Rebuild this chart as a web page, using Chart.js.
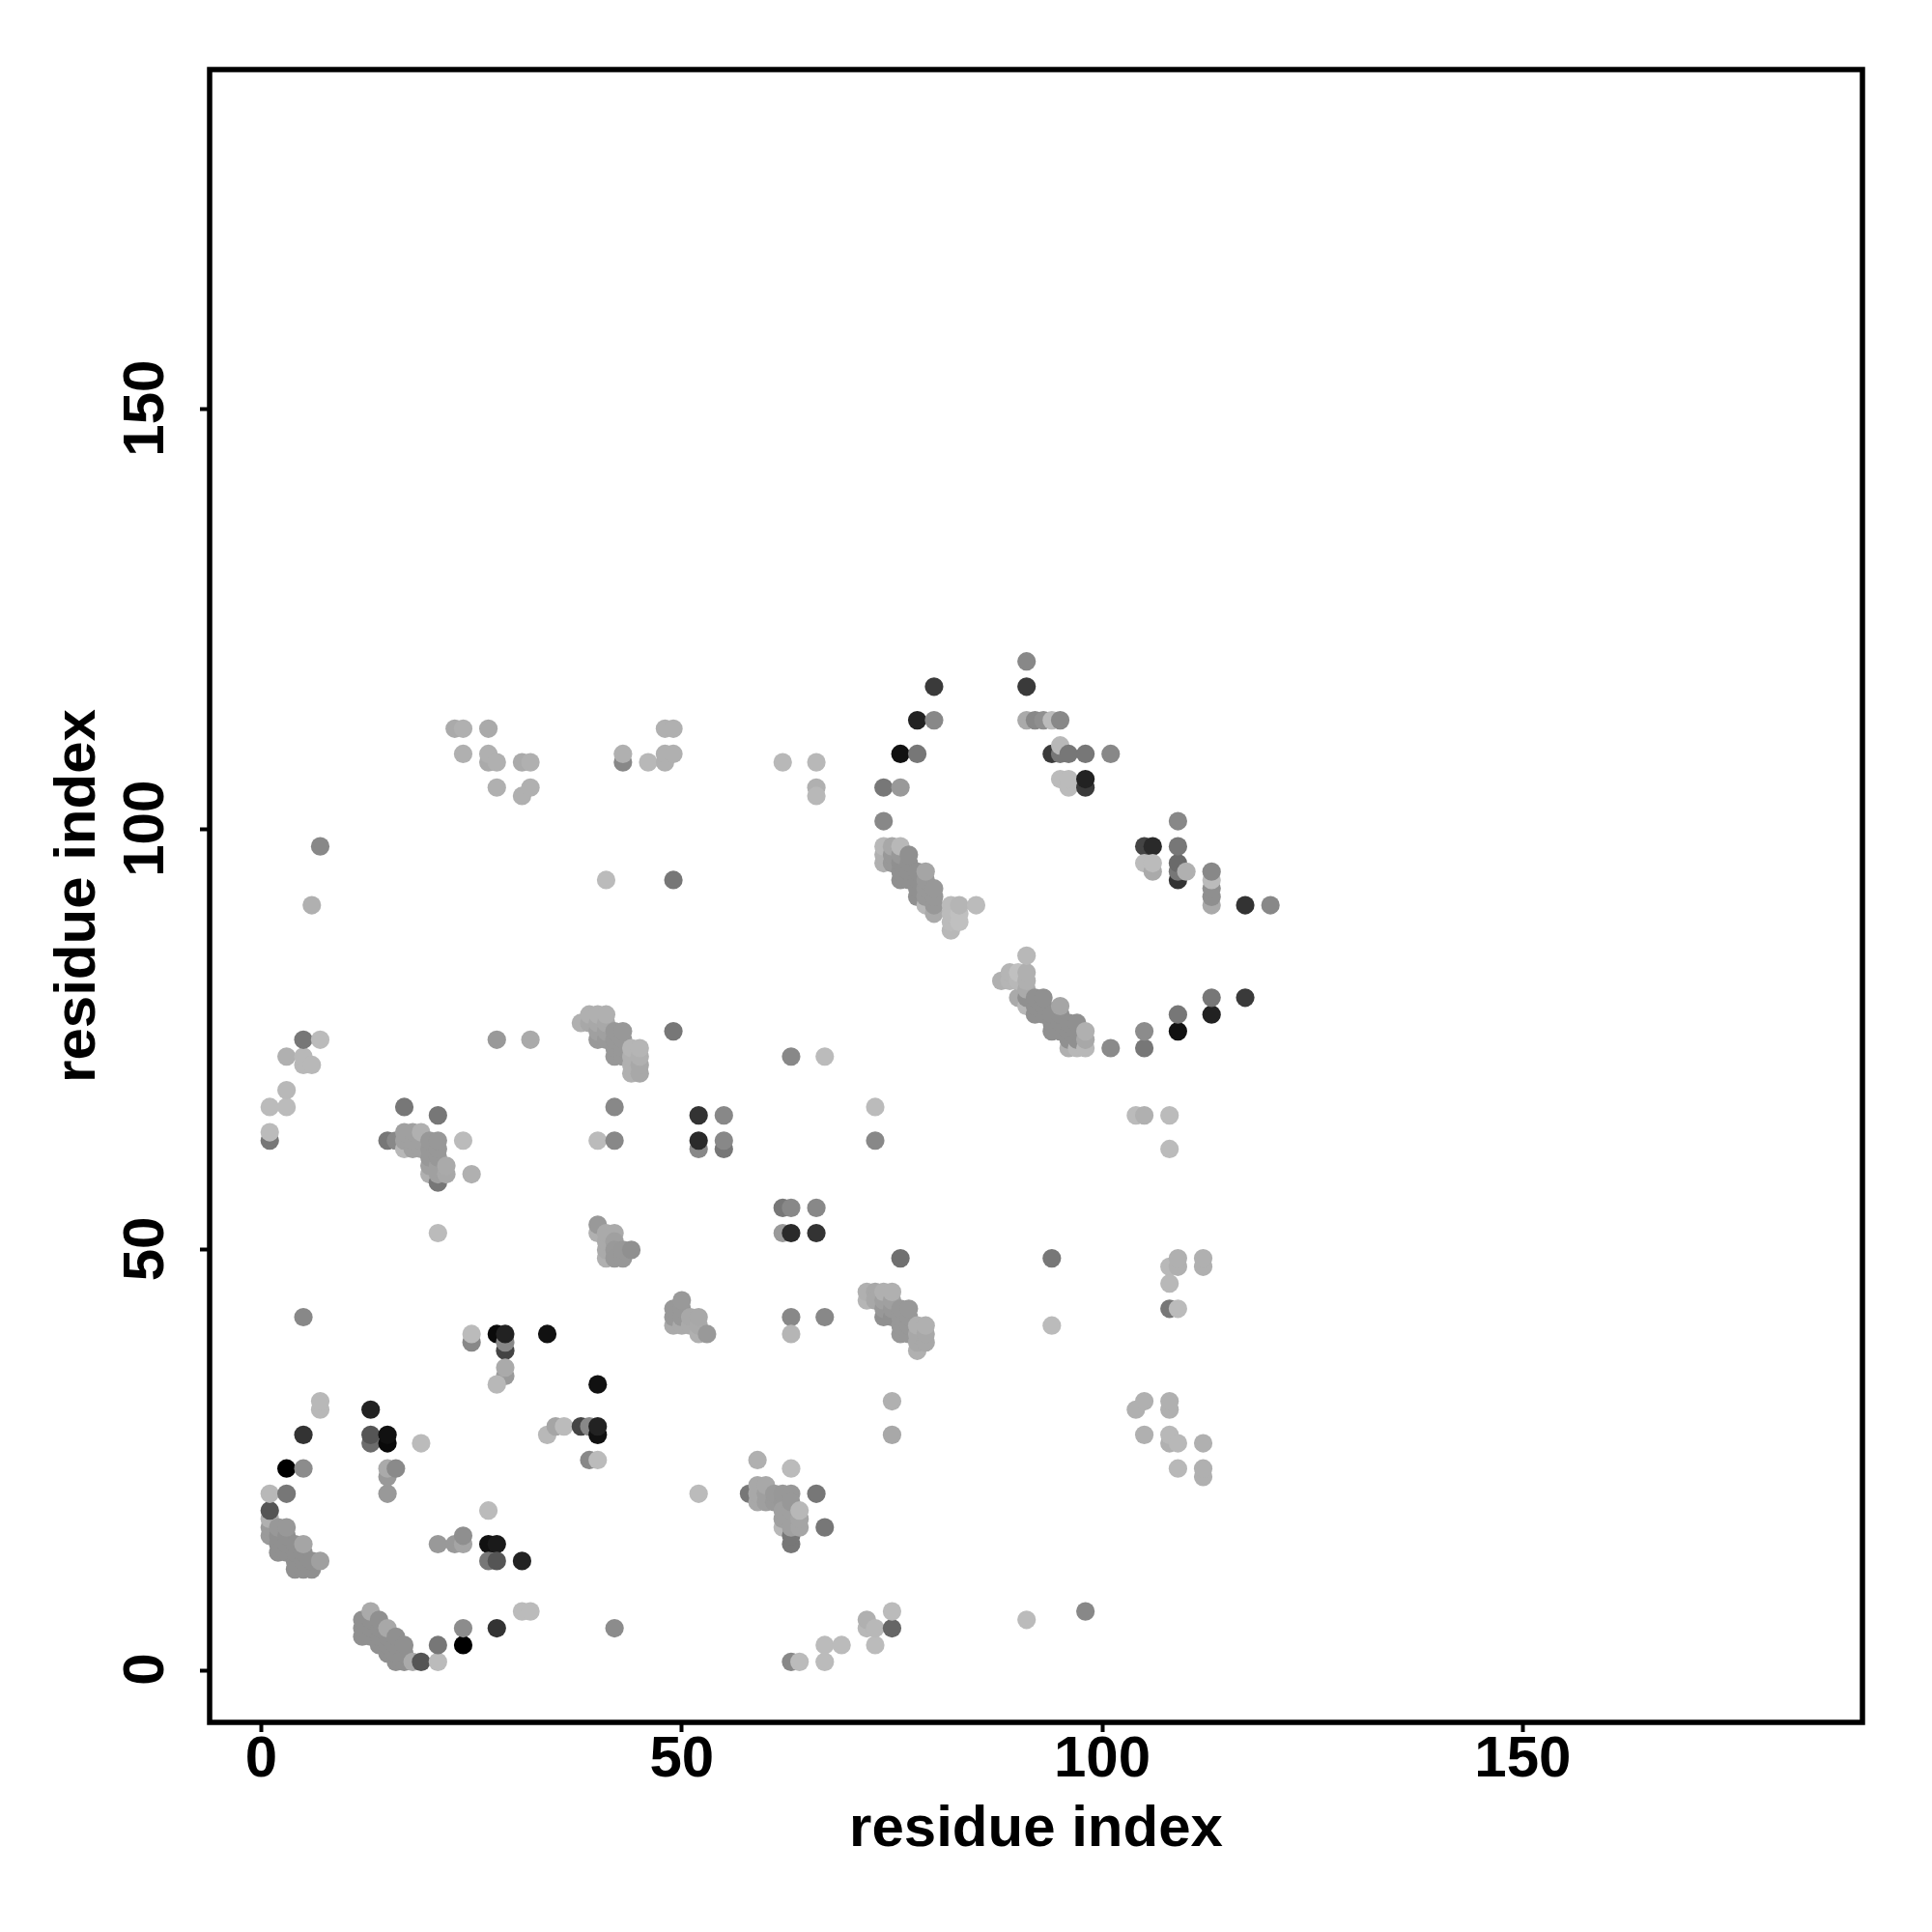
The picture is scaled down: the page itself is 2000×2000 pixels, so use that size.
<!DOCTYPE html>
<html>
<head>
<meta charset="utf-8">
<style>html,body{margin:0;padding:0;background:#fff}#wrap{width:2000px;height:2000px}</style>
<script src="https://cdn.jsdelivr.net/npm/chart.js@4"></script>
</head>
<body>
<div id="wrap"><canvas id="c" width="2000" height="2000"></canvas></div>
<script>
const tickValues = [0, 50, 100, 150];
const axisTitle = 'residue index';

const residueI = [
1,1,1,1,1,2,2,2,2,3,3,3,3,4,4,4,4,5,5,5,5,6,6,7,
3,3,5,5,7,7,
13,13,13,15,15,19,15,15,15,16,27,
21,23,24,24,27,28,27,28,31,31,32,
12,12,12,13,13,13,13,14,14,14,14,15,15,15,15,16,16,16,16,17,17,17,18,19,21,21,24,24,28,
25,25,28,29,29,29,34,29,29,28,
34,35,36,38,39,40,40,40,39,40,52,
58,59,59,59,60,60,60,61,61,62,62,63,62,62,62,63,63,63,63,63,63,64,64,64,
59,63,66,67,42,63,64,67,67,69,72,72,73,73,75,75,75,75,
62,63,66,62,63,66,76,63,67,63,
72,72,73,73,74,74,74,74,75,75,75,75,76,76,76,76,77,77,77,77,78,78,78,78,79,79,79,
49,49,49,50,50,50,50,51,51,52,52,52,53,
40,40,41,41,41,41,42,42,42,42,43,43,44,
15,16,17,17,17,18,18,18,19,19,19,20,20,20,20,20,21,21,21,21,21,21,22,22,
17,21,24,25,21,5,1,1,1,3,3,3,5,5,6,5,7,28,32,
38,39,39,40,40,40,40,41,41,41,41,42,42,42,42,43,43,43,43,44,44,44,44,45,45,45,45,
49,63,67,42,40,42,52,55,52,52,55,55,73,73,
104,105,108,108,
74,74,74,75,75,75,76,76,76,76,76,77,77,77,77,78,78,78,78,79,79,79,79,79,80,80,80,80,
82,82,82,82,83,83,83,85,
74,74,76,76,78,78,80,80,
91,92,93,94,95,91,91,
94,95,95,96,98,101,95,96,96,98,98,
88,89,89,90,90,90,91,91,91,91,91,91,
92,92,92,93,93,93,94,94,94,95,95,95,95,96,96,96,96,97,97,97,97,98,98,98,
101,105,105,109,109,113,113,117,
105,106,105,106,106,109,109,109,109,109,110,
113,113,113,113,113,117,120,
6,7,23,24,27,24,27,27,28,31,32,28,31,32,
41,49,43,43,46,48,48,49,48,49,62,66,66,66,
94,94,108,109,109,112,112,108,108,109,104,105,108,108,105,108,108,109,112,109,112,112,98,91
];

const residueJ = [
16,17,18,19,21,14,15,16,17,14,15,16,17,12,13,14,15,12,13,14,15,12,13,13,
21,24,24,28,31,32,
31,27,28,27,28,27,21,23,24,24,19,
15,15,15,16,15,15,13,13,13,7,7,
4,5,6,4,5,6,7,3,4,5,6,2,3,4,5,1,2,3,4,1,2,3,1,1,1,3,3,5,5,
39,40,40,38,39,40,40,35,36,34,
28,29,29,29,29,28,29,34,25,25,21,
21,20,21,22,20,21,22,20,21,20,21,21,17,18,19,15,16,17,18,19,20,17,18,19,
25,24,21,17,5,1,1,1,3,3,5,6,3,5,5,7,28,32,
55,55,55,52,52,52,49,42,42,40,
44,45,45,44,42,43,44,45,42,43,44,45,40,41,42,43,40,41,42,43,38,39,40,41,39,40,41,
41,42,43,41,42,43,44,41,42,40,41,42,40,
52,53,49,50,51,52,52,51,50,49,49,50,50,
63,63,62,63,64,62,63,64,62,63,64,59,60,61,62,63,58,59,60,61,62,63,59,60,
67,66,63,59,52,42,63,64,67,67,69,73,72,73,72,75,75,75,75,
77,77,78,75,76,77,78,75,76,77,78,73,74,75,76,73,74,75,76,71,72,73,74,71,72,73,74,
76,73,73,67,63,63,66,66,62,63,62,63,67,63,
66,66,66,62,
96,97,98,96,97,98,94,95,96,97,98,94,95,96,97,92,93,94,95,91,92,93,94,95,90,91,92,93,
88,89,90,91,89,90,91,91,
101,105,105,109,109,113,113,117,
113,113,113,113,113,117,120,
109,109,110,109,109,109,106,105,106,105,106,
82,82,83,80,82,83,79,80,81,82,83,85,
78,79,80,78,79,80,76,77,78,76,77,78,79,74,75,76,77,74,75,76,77,74,75,76,
74,74,76,76,78,78,80,80,
98,98,96,95,96,94,95,96,98,101,95,
91,92,93,94,95,91,91,
91,98,112,112,112,109,108,109,108,108,108,105,104,105,
94,94,108,109,108,108,109,109,112,112,108,108,105,104,
49,41,48,48,49,48,49,46,43,43,31,32,31,32,28,27,28,27,27,24,23,24,7,6
];

const shade = [
0x9a,0x9a,0xb0,0x55,0xb8,0x90,0x90,0x90,0x98,0x90,0x90,0x90,0x98,0x90,0x90,0x90,0x90,0x90,0x90,0x90,0xa5,0x90,0x90,0xa0,
0x77,0x00,0x8c,0x33,0xb8,0xb8,
0x22,0x6c,0x55,0x0a,0x11,0xbb,0x99,0x99,0xaa,0x8a,0xbb,
0x99,0x99,0xa5,0x8f,0x11,0x1a,0x77,0x55,0x22,0xbb,0xbb,
0x90,0x90,0x90,0x90,0x90,0x90,0xaa,0x90,0x90,0x90,0x90,0x90,0x90,0x90,0xa8,0x90,0x90,0x90,0x90,0x90,0x90,0x90,0xaa,0x55,0xbb,0x77,0x00,0x8c,0x33,
0x88,0xbb,0x0a,0x44,0x88,0x22,0x11,0x9a,0xaa,0xb8,
0xb8,0xa5,0xbb,0x44,0x88,0x11,0x22,0x11,0x88,0xbb,0xbb,
0x77,0xa8,0xa8,0xa8,0x9f,0x9f,0xa8,0x9a,0x9a,0x98,0x98,0x98,0xb8,0xa0,0xa0,0x77,0x77,0xa0,0xa0,0xa0,0x98,0xa5,0xa5,0xb8,
0xb0,0xbb,0x77,0x77,0x8c,0x88,0xbb,0xbb,0xbb,0xbb,0xb8,0xb0,0xbb,0xb8,0x66,0xbb,0xa8,0xb0,
0x77,0x88,0x88,0x99,0x2a,0x33,0x70,0x88,0x88,0xb5,
0xb5,0xb0,0xa8,0xa8,0x90,0x98,0xa0,0xb0,0x90,0x98,0xa0,0xb0,0x98,0x98,0x98,0x98,0x98,0x98,0x98,0x98,0xb0,0xa8,0xa8,0xb0,0xa8,0xa8,0xb0,
0xaa,0x98,0x98,0xaa,0x98,0x98,0x99,0xaa,0xa8,0xb0,0xaa,0xa8,0x99,
0xb0,0x99,0xb0,0xaa,0xaa,0xaa,0xaa,0xa0,0x99,0x98,0x98,0x98,0x90,
0x77,0x88,0xb8,0xa0,0xa0,0xa0,0xa0,0xa0,0xa0,0xa0,0xb0,0xb0,0xa0,0x98,0x98,0x98,0x77,0xa0,0xa0,0x98,0x98,0x98,0xa8,0xaa,
0x77,0x77,0xbb,0xb0,0xbb,0x88,0x77,0xbb,0xbb,0xbb,0xb8,0xb0,0xb8,0xb8,0xb8,0x77,0xbb,0x99,0xaa,
0xb0,0xa8,0xb0,0x99,0xa0,0xa8,0xb0,0x99,0xa0,0xa8,0xb0,0x98,0x98,0x98,0x98,0x98,0x98,0x98,0x98,0xb0,0xb0,0xb0,0xb5,0xa8,0xa8,0xb0,0xb5,
0x77,0x88,0xbb,0x88,0xbb,0x88,0x33,0x88,0x88,0x2a,0x77,0x88,0xbb,0x88,
0xbb,0xb0,0xbb,0xbb,
0xb0,0xb0,0xb8,0x98,0x98,0xa8,0x90,0x90,0x90,0x98,0xb8,0x90,0x90,0x90,0x90,0x90,0x90,0x90,0x90,0xb8,0x98,0x98,0x98,0xa5,0xaa,0x98,0x98,0x98,
0xb8,0xbb,0xbb,0xbb,0xc0,0xc0,0xb5,0xbb,
0x88,0x77,0x99,0x11,0x77,0x22,0x88,0x3a,
0xaa,0x88,0x8f,0xbb,0x88,0x3a,0x88,
0x3a,0x77,0xb8,0x77,0x77,0x88,0xbb,0xbb,0xbb,0x3a,0x22,
0xb0,0xb5,0xb5,0xaa,0xb8,0xc0,0xb8,0x90,0xaa,0xb0,0xb0,0xb8,
0x90,0x90,0x90,0x90,0x90,0x90,0x90,0x90,0x90,0x90,0x90,0x90,0xa5,0xb0,0x90,0x90,0x90,0xb8,0x90,0x90,0x90,0xb8,0xa8,0xb0,
0x8a,0x77,0x8c,0x11,0x77,0x22,0x77,0x3a,
0x44,0x2a,0xbb,0xaa,0xbb,0x33,0x77,0x6a,0x77,0x88,0xb0,
0xaa,0x8f,0x8f,0xbb,0x88,0x33,0x88,
0xb0,0x88,0xaa,0xb0,0xaa,0xb0,0xaa,0xb0,0xb0,0xaa,0xb0,0xb0,0xb0,0xb0,
0xbb,0x77,0x88,0xb0,0xb8,0xb0,0xb0,0xb0,0xb0,0xb0,0xb8,0xb8,0xb0,0xb8,
0x77,0xbb,0xb8,0xb0,0xb0,0xb0,0xb0,0xb8,0x77,0xbb,0xb0,0xb0,0xb0,0xb0,0xb0,0xb0,0xb8,0xb8,0xb0,0xb8,0xb0,0xb0,0x88,0xbb
];

const points = residueI.map((x, k) => ({ x, y: residueJ[k] }));
const fills = shade.map(g => `rgb(${g},${g},${g})`);
const labelFont = { family: '"Liberation Sans", Arial, sans-serif', size: 60, weight: 'bold', lineHeight: 1 };

const frame = {
  id: 'frame',
  afterDatasetsDraw(chart) {
    const a = chart.chartArea, c = chart.ctx;
    c.save();
    c.lineWidth = 5.5;
    c.strokeStyle = '#000';
    c.lineJoin = 'miter';
    c.strokeRect(a.left, a.top, a.right - a.left, a.bottom - a.top);
    c.restore();
  }
};

function axis(extra) {
  return Object.assign({
    type: 'linear',
    border: { display: false },
    afterBuildTicks(s) { s.ticks = tickValues.map(value => ({ value })); },
    grid: { display: true, drawOnChartArea: false, drawTicks: true, tickLength: 10, tickWidth: 4, tickColor: '#000' }
  }, extra);
}

new Chart(document.getElementById('c'), {
  type: 'scatter',
  data: { datasets: [{
    data: points,
    backgroundColor: fills,
    pointBackgroundColor: fills,
    pointRadius: 9.6,
    pointHoverRadius: 9.6,
    pointBorderWidth: 0
  }] },
  options: {
    responsive: false,
    animation: false,
    events: [],
    devicePixelRatio: 1,
    layout: { padding: { left: 0, right: 72, top: 72, bottom: 0 } },
    plugins: { legend: { display: false }, tooltip: { enabled: false } },
    scales: {
      x: axis({
        min: -6.15, max: 190.4,
        afterFit(s) { s.height = 217; },
        ticks: { font: labelFont, color: '#000', maxRotation: 0, minRotation: 0, padding: -1, autoSkip: false },
        title: { display: true, text: axisTitle, color: '#000', font: labelFont, padding: { top: 0, bottom: 76 } }
      }),
      y: axis({
        min: -6.2, max: 190.4,
        afterFit(s) { s.width = 217; },
        ticks: { font: labelFont, color: '#000', minRotation: 90, maxRotation: 90, padding: 4, labelOffset: -1, crossAlign: 'center', autoSkip: false },
        title: { display: true, text: axisTitle, color: '#000', font: labelFont, padding: { top: 51, bottom: 0 } }
      })
    }
  },
  plugins: [frame]
});
</script>
</body>
</html>
